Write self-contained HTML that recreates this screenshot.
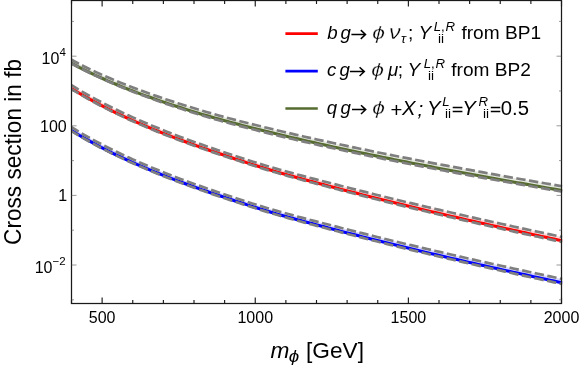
<!DOCTYPE html><html><head><meta charset="utf-8"><title>plot</title><style>html,body{margin:0;padding:0;background:#fff}svg{display:block}svg{will-change:transform;filter:opacity(1)}text{font-family:"Liberation Sans",sans-serif;fill:#000}.i{font-style:italic}</style></head><body>
<svg width="581" height="369" viewBox="0 0 581 369">
<rect x="0" y="0" width="581" height="369" fill="#fff"/>
<clipPath id="cp"><rect x="71.0" y="0.5" width="491.5" height="303.0"/></clipPath>
<g clip-path="url(#cp)" fill="none">
<path d="M71.50 59.79 L75.59 61.99 L79.68 64.13 L83.77 66.20 L87.86 68.22 L91.95 70.19 L96.04 72.11 L100.13 73.98 L104.22 75.81 L108.31 77.59 L112.40 79.34 L116.49 81.04 L120.58 82.71 L124.67 84.35 L128.76 85.95 L132.85 87.52 L136.94 89.07 L141.03 90.58 L145.12 92.07 L149.21 93.53 L153.30 94.98 L157.39 96.39 L161.48 97.79 L165.57 99.17 L169.66 100.53 L173.75 101.87 L177.84 103.19 L181.93 104.49 L186.02 105.78 L190.11 107.06 L194.20 108.31 L198.29 109.55 L202.38 110.77 L206.47 111.97 L210.56 113.15 L214.65 114.31 L218.74 115.45 L222.83 116.58 L226.92 117.69 L231.01 118.78 L235.10 119.85 L239.19 120.91 L243.28 121.96 L247.37 123.00 L251.46 124.03 L255.55 125.04 L259.64 126.05 L263.73 127.06 L267.82 128.05 L271.91 129.04 L276.00 130.02 L280.09 130.99 L284.18 131.96 L288.27 132.92 L292.36 133.87 L296.45 134.82 L300.54 135.76 L304.63 136.70 L308.72 137.62 L312.81 138.54 L316.90 139.45 L320.99 140.36 L325.08 141.26 L329.17 142.16 L333.26 143.04 L337.35 143.93 L341.44 144.80 L345.53 145.67 L349.62 146.54 L353.71 147.40 L357.80 148.25 L361.89 149.10 L365.98 149.94 L370.07 150.78 L374.16 151.62 L378.25 152.45 L382.34 153.27 L386.43 154.09 L390.52 154.91 L394.61 155.72 L398.70 156.53 L402.79 157.33 L406.88 158.13 L410.97 158.93 L415.06 159.72 L419.15 160.51 L423.24 161.29 L427.33 162.07 L431.42 162.85 L435.51 163.62 L439.60 164.39 L443.69 165.16 L447.78 165.93 L451.87 166.69 L455.96 167.45 L460.05 168.20 L464.14 168.95 L468.23 169.70 L472.32 170.45 L476.41 171.19 L480.50 171.93 L484.59 172.67 L488.68 173.41 L492.77 174.14 L496.86 174.87 L500.95 175.60 L505.04 176.33 L509.13 177.05 L513.22 177.77 L517.31 178.49 L521.40 179.21 L525.49 179.93 L529.58 180.64 L533.67 181.35 L537.76 182.06 L541.85 182.77 L545.94 183.47 L550.03 184.18 L554.12 184.88 L558.21 185.58 L562.30 186.28 L562.30 191.68 L558.21 190.99 L554.12 190.29 L550.03 189.58 L545.94 188.88 L541.85 188.17 L537.76 187.47 L533.67 186.76 L529.58 186.04 L525.49 185.33 L521.40 184.61 L517.31 183.89 L513.22 183.17 L509.13 182.45 L505.04 181.73 L500.95 181.00 L496.86 180.27 L492.77 179.54 L488.68 178.80 L484.59 178.06 L480.50 177.32 L476.41 176.58 L472.32 175.84 L468.23 175.09 L464.14 174.34 L460.05 173.58 L455.96 172.82 L451.87 172.06 L447.78 171.30 L443.69 170.53 L439.60 169.76 L435.51 168.99 L431.42 168.21 L427.33 167.43 L423.24 166.65 L419.15 165.86 L415.06 165.07 L410.97 164.27 L406.88 163.47 L402.79 162.67 L398.70 161.86 L394.61 161.05 L390.52 160.23 L386.43 159.41 L382.34 158.59 L378.25 157.76 L374.16 156.92 L370.07 156.08 L365.98 155.24 L361.89 154.39 L357.80 153.53 L353.71 152.67 L349.62 151.80 L345.53 150.93 L341.44 150.05 L337.35 149.17 L333.26 148.28 L329.17 147.38 L325.08 146.48 L320.99 145.57 L316.90 144.66 L312.81 143.73 L308.72 142.80 L304.63 141.87 L300.54 140.92 L296.45 139.97 L292.36 139.01 L288.27 138.05 L284.18 137.07 L280.09 136.09 L276.00 135.10 L271.91 134.11 L267.82 133.11 L263.73 132.10 L259.64 131.08 L255.55 130.05 L251.46 129.02 L247.37 127.98 L243.28 126.92 L239.19 125.85 L235.10 124.77 L231.01 123.68 L226.92 122.57 L222.83 121.44 L218.74 120.29 L214.65 119.12 L210.56 117.93 L206.47 116.73 L202.38 115.50 L198.29 114.26 L194.20 112.99 L190.11 111.71 L186.02 110.41 L181.93 109.09 L177.84 107.75 L173.75 106.39 L169.66 105.02 L165.57 103.63 L161.48 102.21 L157.39 100.78 L153.30 99.32 L149.21 97.84 L145.12 96.33 L141.03 94.80 L136.94 93.24 L132.85 91.65 L128.76 90.03 L124.67 88.38 L120.58 86.69 L116.49 84.97 L112.40 83.21 L108.31 81.40 L104.22 79.56 L100.13 77.72 L96.04 75.85 L91.95 73.94 L87.86 71.97 L83.77 69.95 L79.68 67.87 L75.59 65.74 L71.50 63.54Z" fill="#556B2F" fill-opacity="0.15" stroke="none"/>
<path d="M71.50 85.19 L75.59 87.71 L79.68 90.17 L83.77 92.56 L87.86 94.89 L91.95 97.16 L96.04 99.38 L100.13 101.55 L104.22 103.67 L108.31 105.75 L112.40 107.78 L116.49 109.78 L120.58 111.73 L124.67 113.65 L128.76 115.53 L132.85 117.38 L136.94 119.20 L141.03 120.99 L145.12 122.74 L149.21 124.48 L153.30 126.18 L157.39 127.86 L161.48 129.51 L165.57 131.14 L169.66 132.74 L173.75 134.33 L177.84 135.89 L181.93 137.43 L186.02 138.95 L190.11 140.45 L194.20 141.94 L198.29 143.40 L202.38 144.85 L206.47 146.28 L210.56 147.70 L214.65 149.10 L218.74 150.49 L222.83 151.86 L226.92 153.23 L231.01 154.58 L235.10 155.93 L239.19 157.26 L243.28 158.58 L247.37 159.90 L251.46 161.19 L255.55 162.48 L259.64 163.74 L263.73 164.99 L267.82 166.22 L271.91 167.43 L276.00 168.62 L280.09 169.78 L284.18 170.93 L288.27 172.06 L292.36 173.17 L296.45 174.27 L300.54 175.36 L304.63 176.43 L308.72 177.50 L312.81 178.57 L316.90 179.63 L320.99 180.69 L325.08 181.75 L329.17 182.81 L333.26 183.86 L337.35 184.91 L341.44 185.96 L345.53 187.01 L349.62 188.05 L353.71 189.09 L357.80 190.12 L361.89 191.15 L365.98 192.18 L370.07 193.20 L374.16 194.21 L378.25 195.23 L382.34 196.23 L386.43 197.24 L390.52 198.24 L394.61 199.23 L398.70 200.22 L402.79 201.21 L406.88 202.19 L410.97 203.17 L415.06 204.14 L419.15 205.11 L423.24 206.08 L427.33 207.04 L431.42 208.00 L435.51 208.95 L439.60 209.91 L443.69 210.85 L447.78 211.80 L451.87 212.74 L455.96 213.68 L460.05 214.61 L464.14 215.54 L468.23 216.47 L472.32 217.39 L476.41 218.31 L480.50 219.23 L484.59 220.15 L488.68 221.06 L492.77 221.97 L496.86 222.87 L500.95 223.78 L505.04 224.68 L509.13 225.58 L513.22 226.47 L517.31 227.36 L521.40 228.25 L525.49 229.14 L529.58 230.03 L533.67 230.91 L537.76 231.79 L541.85 232.67 L545.94 233.54 L550.03 234.42 L554.12 235.29 L558.21 236.16 L562.30 237.02 L562.30 242.08 L558.21 241.20 L554.12 240.32 L550.03 239.44 L545.94 238.56 L541.85 237.67 L537.76 236.78 L533.67 235.89 L529.58 235.00 L525.49 234.11 L521.40 233.21 L517.31 232.31 L513.22 231.41 L509.13 230.50 L505.04 229.59 L500.95 228.68 L496.86 227.77 L492.77 226.86 L488.68 225.94 L484.59 225.01 L480.50 224.09 L476.41 223.16 L472.32 222.23 L468.23 221.30 L464.14 220.36 L460.05 219.42 L455.96 218.48 L451.87 217.53 L447.78 216.58 L443.69 215.62 L439.60 214.66 L435.51 213.70 L431.42 212.74 L427.33 211.77 L423.24 210.79 L419.15 209.81 L415.06 208.83 L410.97 207.85 L406.88 206.86 L402.79 205.86 L398.70 204.86 L394.61 203.86 L390.52 202.85 L386.43 201.83 L382.34 200.81 L378.25 199.79 L374.16 198.76 L370.07 197.73 L365.98 196.69 L361.89 195.64 L357.80 194.59 L353.71 193.54 L349.62 192.48 L345.53 191.42 L341.44 190.35 L337.35 189.27 L333.26 188.20 L329.17 187.12 L325.08 186.04 L320.99 184.95 L316.90 183.87 L312.81 182.78 L308.72 181.68 L304.63 180.59 L300.54 179.48 L296.45 178.37 L292.36 177.24 L288.27 176.10 L284.18 174.95 L280.09 173.78 L276.00 172.58 L271.91 171.37 L267.82 170.14 L263.73 168.89 L259.64 167.62 L255.55 166.33 L251.46 165.03 L247.37 163.72 L243.28 162.39 L239.19 161.06 L235.10 159.71 L231.01 158.36 L226.92 157.00 L222.83 155.63 L218.74 154.24 L214.65 152.85 L210.56 151.45 L206.47 150.03 L202.38 148.60 L198.29 147.16 L194.20 145.70 L190.11 144.22 L186.02 142.72 L181.93 141.21 L177.84 139.68 L173.75 138.12 L169.66 136.55 L165.57 134.95 L161.48 133.33 L157.39 131.68 L153.30 130.01 L149.21 128.32 L145.12 126.59 L141.03 124.84 L136.94 123.06 L132.85 121.25 L128.76 119.41 L124.67 117.53 L120.58 115.61 L116.49 113.66 L112.40 111.67 L108.31 109.64 L104.22 107.56 L100.13 105.44 L96.04 103.27 L91.95 101.05 L87.86 98.77 L83.77 96.44 L79.68 94.04 L75.59 91.59 L71.50 89.06Z" fill="#FF0000" fill-opacity="0.15" stroke="none"/>
<path d="M71.50 127.19 L75.59 129.71 L79.68 132.17 L83.77 134.56 L87.86 136.89 L91.95 139.16 L96.04 141.38 L100.13 143.55 L104.22 145.67 L108.31 147.75 L112.40 149.78 L116.49 151.78 L120.58 153.73 L124.67 155.65 L128.76 157.53 L132.85 159.38 L136.94 161.20 L141.03 162.99 L145.12 164.74 L149.21 166.48 L153.30 168.18 L157.39 169.86 L161.48 171.51 L165.57 173.14 L169.66 174.74 L173.75 176.33 L177.84 177.89 L181.93 179.43 L186.02 180.95 L190.11 182.45 L194.20 183.94 L198.29 185.40 L202.38 186.85 L206.47 188.28 L210.56 189.70 L214.65 191.10 L218.74 192.49 L222.83 193.86 L226.92 195.23 L231.01 196.58 L235.10 197.93 L239.19 199.26 L243.28 200.58 L247.37 201.90 L251.46 203.19 L255.55 204.48 L259.64 205.74 L263.73 206.99 L267.82 208.22 L271.91 209.43 L276.00 210.62 L280.09 211.78 L284.18 212.93 L288.27 214.06 L292.36 215.17 L296.45 216.27 L300.54 217.36 L304.63 218.43 L308.72 219.50 L312.81 220.57 L316.90 221.63 L320.99 222.69 L325.08 223.75 L329.17 224.81 L333.26 225.86 L337.35 226.91 L341.44 227.96 L345.53 229.01 L349.62 230.05 L353.71 231.09 L357.80 232.12 L361.89 233.15 L365.98 234.18 L370.07 235.20 L374.16 236.21 L378.25 237.23 L382.34 238.23 L386.43 239.24 L390.52 240.24 L394.61 241.23 L398.70 242.22 L402.79 243.21 L406.88 244.19 L410.97 245.17 L415.06 246.14 L419.15 247.11 L423.24 248.08 L427.33 249.04 L431.42 250.00 L435.51 250.95 L439.60 251.91 L443.69 252.85 L447.78 253.80 L451.87 254.74 L455.96 255.68 L460.05 256.61 L464.14 257.54 L468.23 258.47 L472.32 259.39 L476.41 260.31 L480.50 261.23 L484.59 262.15 L488.68 263.06 L492.77 263.97 L496.86 264.87 L500.95 265.78 L505.04 266.68 L509.13 267.58 L513.22 268.47 L517.31 269.36 L521.40 270.25 L525.49 271.14 L529.58 272.03 L533.67 272.91 L537.76 273.79 L541.85 274.67 L545.94 275.54 L550.03 276.42 L554.12 277.29 L558.21 278.16 L562.30 279.02 L562.30 284.08 L558.21 283.20 L554.12 282.32 L550.03 281.44 L545.94 280.56 L541.85 279.67 L537.76 278.78 L533.67 277.89 L529.58 277.00 L525.49 276.11 L521.40 275.21 L517.31 274.31 L513.22 273.41 L509.13 272.50 L505.04 271.59 L500.95 270.68 L496.86 269.77 L492.77 268.86 L488.68 267.94 L484.59 267.01 L480.50 266.09 L476.41 265.16 L472.32 264.23 L468.23 263.30 L464.14 262.36 L460.05 261.42 L455.96 260.48 L451.87 259.53 L447.78 258.58 L443.69 257.62 L439.60 256.66 L435.51 255.70 L431.42 254.74 L427.33 253.77 L423.24 252.79 L419.15 251.81 L415.06 250.83 L410.97 249.85 L406.88 248.86 L402.79 247.86 L398.70 246.86 L394.61 245.86 L390.52 244.85 L386.43 243.83 L382.34 242.81 L378.25 241.79 L374.16 240.76 L370.07 239.73 L365.98 238.69 L361.89 237.64 L357.80 236.59 L353.71 235.54 L349.62 234.48 L345.53 233.42 L341.44 232.35 L337.35 231.27 L333.26 230.20 L329.17 229.12 L325.08 228.04 L320.99 226.95 L316.90 225.87 L312.81 224.78 L308.72 223.68 L304.63 222.59 L300.54 221.48 L296.45 220.37 L292.36 219.24 L288.27 218.10 L284.18 216.95 L280.09 215.78 L276.00 214.58 L271.91 213.37 L267.82 212.14 L263.73 210.89 L259.64 209.62 L255.55 208.33 L251.46 207.03 L247.37 205.72 L243.28 204.39 L239.19 203.06 L235.10 201.71 L231.01 200.36 L226.92 199.00 L222.83 197.63 L218.74 196.24 L214.65 194.85 L210.56 193.45 L206.47 192.03 L202.38 190.60 L198.29 189.16 L194.20 187.70 L190.11 186.22 L186.02 184.72 L181.93 183.21 L177.84 181.68 L173.75 180.12 L169.66 178.55 L165.57 176.95 L161.48 175.33 L157.39 173.68 L153.30 172.01 L149.21 170.32 L145.12 168.59 L141.03 166.84 L136.94 165.06 L132.85 163.25 L128.76 161.41 L124.67 159.53 L120.58 157.61 L116.49 155.66 L112.40 153.67 L108.31 151.64 L104.22 149.56 L100.13 147.44 L96.04 145.27 L91.95 143.05 L87.86 140.77 L83.77 138.44 L79.68 136.04 L75.59 133.59 L71.50 131.06Z" fill="#0000FF" fill-opacity="0.15" stroke="none"/>
<path d="M71.50 63.19 L75.59 65.39 L79.68 67.54 L83.77 69.62 L87.86 71.65 L91.95 73.63 L96.04 75.55 L100.13 77.43 L104.22 79.27 L108.31 81.06 L112.40 82.81 L116.49 84.52 L120.58 86.20 L124.67 87.84 L128.76 89.45 L132.85 91.03 L136.94 92.58 L141.03 94.10 L145.12 95.60 L149.21 97.07 L153.30 98.52 L157.39 99.94 L161.48 101.35 L165.57 102.73 L169.66 104.10 L173.75 105.44 L177.84 106.77 L181.93 108.09 L186.02 109.38 L190.11 110.66 L194.20 111.92 L198.29 113.17 L202.38 114.39 L206.47 115.60 L210.56 116.79 L214.65 117.96 L218.74 119.11 L222.83 120.24 L226.92 121.36 L231.01 122.46 L235.10 123.54 L239.19 124.61 L243.28 125.66 L247.37 126.71 L251.46 127.74 L255.55 128.76 L259.64 129.78 L263.73 130.79 L267.82 131.79 L271.91 132.79 L276.00 133.77 L280.09 134.75 L284.18 135.73 L288.27 136.70 L292.36 137.66 L296.45 138.61 L300.54 139.56 L304.63 140.50 L308.72 141.43 L312.81 142.36 L316.90 143.28 L320.99 144.19 L325.08 145.10 L329.17 146.00 L333.26 146.90 L337.35 147.79 L341.44 148.67 L345.53 149.55 L349.62 150.42 L353.71 151.29 L357.80 152.15 L361.89 153.00 L365.98 153.85 L370.07 154.70 L374.16 155.54 L378.25 156.38 L382.34 157.21 L386.43 158.04 L390.52 158.86 L394.61 159.68 L398.70 160.50 L402.79 161.31 L406.88 162.11 L410.97 162.92 L415.06 163.71 L419.15 164.51 L423.24 165.30 L427.33 166.09 L431.42 166.87 L435.51 167.66 L439.60 168.43 L443.69 169.21 L447.78 169.98 L451.87 170.75 L455.96 171.51 L460.05 172.27 L464.14 173.03 L468.23 173.79 L472.32 174.54 L476.41 175.30 L480.50 176.04 L484.59 176.79 L488.68 177.53 L492.77 178.27 L496.86 179.01 L500.95 179.75 L505.04 180.48 L509.13 181.21 L513.22 181.94 L517.31 182.67 L521.40 183.39 L525.49 184.11 L529.58 184.84 L533.67 185.55 L537.76 186.27 L541.85 186.98 L545.94 187.70 L550.03 188.41 L554.12 189.12 L558.21 189.82 L562.30 190.53" stroke="#556B2F" stroke-width="3.1"/>
<path d="M71.50 88.49 L75.59 91.01 L79.68 93.46 L83.77 95.85 L87.86 98.18 L91.95 100.45 L96.04 102.66 L100.13 104.83 L104.22 106.94 L108.31 109.01 L112.40 111.04 L116.49 113.03 L120.58 114.97 L124.67 116.88 L128.76 118.75 L132.85 120.59 L136.94 122.40 L141.03 124.17 L145.12 125.92 L149.21 127.64 L153.30 129.33 L157.39 130.99 L161.48 132.63 L165.57 134.24 L169.66 135.83 L173.75 137.40 L177.84 138.95 L181.93 140.48 L186.02 141.99 L190.11 143.48 L194.20 144.95 L198.29 146.40 L202.38 147.84 L206.47 149.27 L210.56 150.68 L214.65 152.08 L218.74 153.46 L222.83 154.84 L226.92 156.20 L231.01 157.56 L235.10 158.91 L239.19 160.24 L243.28 161.57 L247.37 162.89 L251.46 164.20 L255.55 165.50 L259.64 166.78 L263.73 168.04 L267.82 169.29 L271.91 170.51 L276.00 171.72 L280.09 172.90 L284.18 174.07 L288.27 175.22 L292.36 176.35 L296.45 177.47 L300.54 178.58 L304.63 179.68 L308.72 180.77 L312.81 181.86 L316.90 182.94 L320.99 184.02 L325.08 185.10 L329.17 186.18 L333.26 187.25 L337.35 188.32 L341.44 189.39 L345.53 190.45 L349.62 191.51 L353.71 192.56 L357.80 193.61 L361.89 194.65 L365.98 195.69 L370.07 196.72 L374.16 197.75 L378.25 198.78 L382.34 199.79 L386.43 200.81 L390.52 201.81 L394.61 202.82 L398.70 203.82 L402.79 204.81 L406.88 205.80 L410.97 206.78 L415.06 207.76 L419.15 208.74 L423.24 209.71 L427.33 210.68 L431.42 211.64 L435.51 212.60 L439.60 213.56 L443.69 214.51 L447.78 215.46 L451.87 216.41 L455.96 217.35 L460.05 218.29 L464.14 219.22 L468.23 220.15 L472.32 221.08 L476.41 222.01 L480.50 222.93 L484.59 223.85 L488.68 224.76 L492.77 225.67 L496.86 226.58 L500.95 227.49 L505.04 228.40 L509.13 229.30 L513.22 230.20 L517.31 231.09 L521.40 231.99 L525.49 232.88 L529.58 233.77 L533.67 234.65 L537.76 235.54 L541.85 236.42 L545.94 237.30 L550.03 238.18 L554.12 239.05 L558.21 239.92 L562.30 240.79" stroke="#FF0000" stroke-width="3.1"/>
<path d="M71.50 130.49 L75.59 133.01 L79.68 135.46 L83.77 137.85 L87.86 140.18 L91.95 142.45 L96.04 144.66 L100.13 146.83 L104.22 148.94 L108.31 151.01 L112.40 153.04 L116.49 155.03 L120.58 156.97 L124.67 158.88 L128.76 160.75 L132.85 162.59 L136.94 164.40 L141.03 166.17 L145.12 167.92 L149.21 169.64 L153.30 171.33 L157.39 172.99 L161.48 174.63 L165.57 176.24 L169.66 177.83 L173.75 179.40 L177.84 180.95 L181.93 182.48 L186.02 183.99 L190.11 185.48 L194.20 186.95 L198.29 188.40 L202.38 189.84 L206.47 191.27 L210.56 192.68 L214.65 194.08 L218.74 195.46 L222.83 196.84 L226.92 198.20 L231.01 199.56 L235.10 200.91 L239.19 202.24 L243.28 203.57 L247.37 204.89 L251.46 206.20 L255.55 207.50 L259.64 208.78 L263.73 210.04 L267.82 211.29 L271.91 212.51 L276.00 213.72 L280.09 214.90 L284.18 216.07 L288.27 217.22 L292.36 218.35 L296.45 219.47 L300.54 220.58 L304.63 221.68 L308.72 222.77 L312.81 223.86 L316.90 224.94 L320.99 226.02 L325.08 227.10 L329.17 228.18 L333.26 229.25 L337.35 230.32 L341.44 231.39 L345.53 232.45 L349.62 233.51 L353.71 234.56 L357.80 235.61 L361.89 236.65 L365.98 237.69 L370.07 238.72 L374.16 239.75 L378.25 240.78 L382.34 241.79 L386.43 242.81 L390.52 243.81 L394.61 244.82 L398.70 245.82 L402.79 246.81 L406.88 247.80 L410.97 248.78 L415.06 249.76 L419.15 250.74 L423.24 251.71 L427.33 252.68 L431.42 253.64 L435.51 254.60 L439.60 255.56 L443.69 256.51 L447.78 257.46 L451.87 258.41 L455.96 259.35 L460.05 260.29 L464.14 261.22 L468.23 262.15 L472.32 263.08 L476.41 264.01 L480.50 264.93 L484.59 265.85 L488.68 266.76 L492.77 267.67 L496.86 268.58 L500.95 269.49 L505.04 270.40 L509.13 271.30 L513.22 272.20 L517.31 273.09 L521.40 273.99 L525.49 274.88 L529.58 275.77 L533.67 276.65 L537.76 277.54 L541.85 278.42 L545.94 279.30 L550.03 280.18 L554.12 281.05 L558.21 281.92 L562.30 282.79" stroke="#0000FF" stroke-width="3.1"/>
<path d="M71.50 59.79 L75.59 61.99 L79.68 64.13 L83.77 66.20 L87.86 68.22 L91.95 70.19 L96.04 72.11 L100.13 73.98 L104.22 75.81 L108.31 77.59 L112.40 79.34 L116.49 81.04 L120.58 82.71 L124.67 84.35 L128.76 85.95 L132.85 87.52 L136.94 89.07 L141.03 90.58 L145.12 92.07 L149.21 93.53 L153.30 94.98 L157.39 96.39 L161.48 97.79 L165.57 99.17 L169.66 100.53 L173.75 101.87 L177.84 103.19 L181.93 104.49 L186.02 105.78 L190.11 107.06 L194.20 108.31 L198.29 109.55 L202.38 110.77 L206.47 111.97 L210.56 113.15 L214.65 114.31 L218.74 115.45 L222.83 116.58 L226.92 117.69 L231.01 118.78 L235.10 119.85 L239.19 120.91 L243.28 121.96 L247.37 123.00 L251.46 124.03 L255.55 125.04 L259.64 126.05 L263.73 127.06 L267.82 128.05 L271.91 129.04 L276.00 130.02 L280.09 130.99 L284.18 131.96 L288.27 132.92 L292.36 133.87 L296.45 134.82 L300.54 135.76 L304.63 136.70 L308.72 137.62 L312.81 138.54 L316.90 139.45 L320.99 140.36 L325.08 141.26 L329.17 142.16 L333.26 143.04 L337.35 143.93 L341.44 144.80 L345.53 145.67 L349.62 146.54 L353.71 147.40 L357.80 148.25 L361.89 149.10 L365.98 149.94 L370.07 150.78 L374.16 151.62 L378.25 152.45 L382.34 153.27 L386.43 154.09 L390.52 154.91 L394.61 155.72 L398.70 156.53 L402.79 157.33 L406.88 158.13 L410.97 158.93 L415.06 159.72 L419.15 160.51 L423.24 161.29 L427.33 162.07 L431.42 162.85 L435.51 163.62 L439.60 164.39 L443.69 165.16 L447.78 165.93 L451.87 166.69 L455.96 167.45 L460.05 168.20 L464.14 168.95 L468.23 169.70 L472.32 170.45 L476.41 171.19 L480.50 171.93 L484.59 172.67 L488.68 173.41 L492.77 174.14 L496.86 174.87 L500.95 175.60 L505.04 176.33 L509.13 177.05 L513.22 177.77 L517.31 178.49 L521.40 179.21 L525.49 179.93 L529.58 180.64 L533.67 181.35 L537.76 182.06 L541.85 182.77 L545.94 183.47 L550.03 184.18 L554.12 184.88 L558.21 185.58 L562.30 186.28" stroke="#7f7f7f" stroke-width="2.7" stroke-dasharray="9.4 3.46" stroke-dashoffset="1.0"/>
<path d="M71.50 63.54 L75.59 65.74 L79.68 67.87 L83.77 69.95 L87.86 71.97 L91.95 73.94 L96.04 75.85 L100.13 77.72 L104.22 79.56 L108.31 81.40 L112.40 83.21 L116.49 84.97 L120.58 86.69 L124.67 88.38 L128.76 90.03 L132.85 91.65 L136.94 93.24 L141.03 94.80 L145.12 96.33 L149.21 97.84 L153.30 99.32 L157.39 100.78 L161.48 102.21 L165.57 103.63 L169.66 105.02 L173.75 106.39 L177.84 107.75 L181.93 109.09 L186.02 110.41 L190.11 111.71 L194.20 112.99 L198.29 114.26 L202.38 115.50 L206.47 116.73 L210.56 117.93 L214.65 119.12 L218.74 120.29 L222.83 121.44 L226.92 122.57 L231.01 123.68 L235.10 124.77 L239.19 125.85 L243.28 126.92 L247.37 127.98 L251.46 129.02 L255.55 130.05 L259.64 131.08 L263.73 132.10 L267.82 133.11 L271.91 134.11 L276.00 135.10 L280.09 136.09 L284.18 137.07 L288.27 138.05 L292.36 139.01 L296.45 139.97 L300.54 140.92 L304.63 141.87 L308.72 142.80 L312.81 143.73 L316.90 144.66 L320.99 145.57 L325.08 146.48 L329.17 147.38 L333.26 148.28 L337.35 149.17 L341.44 150.05 L345.53 150.93 L349.62 151.80 L353.71 152.67 L357.80 153.53 L361.89 154.39 L365.98 155.24 L370.07 156.08 L374.16 156.92 L378.25 157.76 L382.34 158.59 L386.43 159.41 L390.52 160.23 L394.61 161.05 L398.70 161.86 L402.79 162.67 L406.88 163.47 L410.97 164.27 L415.06 165.07 L419.15 165.86 L423.24 166.65 L427.33 167.43 L431.42 168.21 L435.51 168.99 L439.60 169.76 L443.69 170.53 L447.78 171.30 L451.87 172.06 L455.96 172.82 L460.05 173.58 L464.14 174.34 L468.23 175.09 L472.32 175.84 L476.41 176.58 L480.50 177.32 L484.59 178.06 L488.68 178.80 L492.77 179.54 L496.86 180.27 L500.95 181.00 L505.04 181.73 L509.13 182.45 L513.22 183.17 L517.31 183.89 L521.40 184.61 L525.49 185.33 L529.58 186.04 L533.67 186.76 L537.76 187.47 L541.85 188.17 L545.94 188.88 L550.03 189.58 L554.12 190.29 L558.21 190.99 L562.30 191.68" stroke="#7f7f7f" stroke-width="2.7" stroke-dasharray="9.4 3.46" stroke-dashoffset="1.0"/>
<path d="M71.50 85.19 L75.59 87.71 L79.68 90.17 L83.77 92.56 L87.86 94.89 L91.95 97.16 L96.04 99.38 L100.13 101.55 L104.22 103.67 L108.31 105.75 L112.40 107.78 L116.49 109.78 L120.58 111.73 L124.67 113.65 L128.76 115.53 L132.85 117.38 L136.94 119.20 L141.03 120.99 L145.12 122.74 L149.21 124.48 L153.30 126.18 L157.39 127.86 L161.48 129.51 L165.57 131.14 L169.66 132.74 L173.75 134.33 L177.84 135.89 L181.93 137.43 L186.02 138.95 L190.11 140.45 L194.20 141.94 L198.29 143.40 L202.38 144.85 L206.47 146.28 L210.56 147.70 L214.65 149.10 L218.74 150.49 L222.83 151.86 L226.92 153.23 L231.01 154.58 L235.10 155.93 L239.19 157.26 L243.28 158.58 L247.37 159.90 L251.46 161.19 L255.55 162.48 L259.64 163.74 L263.73 164.99 L267.82 166.22 L271.91 167.43 L276.00 168.62 L280.09 169.78 L284.18 170.93 L288.27 172.06 L292.36 173.17 L296.45 174.27 L300.54 175.36 L304.63 176.43 L308.72 177.50 L312.81 178.57 L316.90 179.63 L320.99 180.69 L325.08 181.75 L329.17 182.81 L333.26 183.86 L337.35 184.91 L341.44 185.96 L345.53 187.01 L349.62 188.05 L353.71 189.09 L357.80 190.12 L361.89 191.15 L365.98 192.18 L370.07 193.20 L374.16 194.21 L378.25 195.23 L382.34 196.23 L386.43 197.24 L390.52 198.24 L394.61 199.23 L398.70 200.22 L402.79 201.21 L406.88 202.19 L410.97 203.17 L415.06 204.14 L419.15 205.11 L423.24 206.08 L427.33 207.04 L431.42 208.00 L435.51 208.95 L439.60 209.91 L443.69 210.85 L447.78 211.80 L451.87 212.74 L455.96 213.68 L460.05 214.61 L464.14 215.54 L468.23 216.47 L472.32 217.39 L476.41 218.31 L480.50 219.23 L484.59 220.15 L488.68 221.06 L492.77 221.97 L496.86 222.87 L500.95 223.78 L505.04 224.68 L509.13 225.58 L513.22 226.47 L517.31 227.36 L521.40 228.25 L525.49 229.14 L529.58 230.03 L533.67 230.91 L537.76 231.79 L541.85 232.67 L545.94 233.54 L550.03 234.42 L554.12 235.29 L558.21 236.16 L562.30 237.02" stroke="#7f7f7f" stroke-width="2.7" stroke-dasharray="9.4 3.46" stroke-dashoffset="1.0"/>
<path d="M71.50 89.06 L75.59 91.59 L79.68 94.04 L83.77 96.44 L87.86 98.77 L91.95 101.05 L96.04 103.27 L100.13 105.44 L104.22 107.56 L108.31 109.64 L112.40 111.67 L116.49 113.66 L120.58 115.61 L124.67 117.53 L128.76 119.41 L132.85 121.25 L136.94 123.06 L141.03 124.84 L145.12 126.59 L149.21 128.32 L153.30 130.01 L157.39 131.68 L161.48 133.33 L165.57 134.95 L169.66 136.55 L173.75 138.12 L177.84 139.68 L181.93 141.21 L186.02 142.72 L190.11 144.22 L194.20 145.70 L198.29 147.16 L202.38 148.60 L206.47 150.03 L210.56 151.45 L214.65 152.85 L218.74 154.24 L222.83 155.63 L226.92 157.00 L231.01 158.36 L235.10 159.71 L239.19 161.06 L243.28 162.39 L247.37 163.72 L251.46 165.03 L255.55 166.33 L259.64 167.62 L263.73 168.89 L267.82 170.14 L271.91 171.37 L276.00 172.58 L280.09 173.78 L284.18 174.95 L288.27 176.10 L292.36 177.24 L296.45 178.37 L300.54 179.48 L304.63 180.59 L308.72 181.68 L312.81 182.78 L316.90 183.87 L320.99 184.95 L325.08 186.04 L329.17 187.12 L333.26 188.20 L337.35 189.27 L341.44 190.35 L345.53 191.42 L349.62 192.48 L353.71 193.54 L357.80 194.59 L361.89 195.64 L365.98 196.69 L370.07 197.73 L374.16 198.76 L378.25 199.79 L382.34 200.81 L386.43 201.83 L390.52 202.85 L394.61 203.86 L398.70 204.86 L402.79 205.86 L406.88 206.86 L410.97 207.85 L415.06 208.83 L419.15 209.81 L423.24 210.79 L427.33 211.77 L431.42 212.74 L435.51 213.70 L439.60 214.66 L443.69 215.62 L447.78 216.58 L451.87 217.53 L455.96 218.48 L460.05 219.42 L464.14 220.36 L468.23 221.30 L472.32 222.23 L476.41 223.16 L480.50 224.09 L484.59 225.01 L488.68 225.94 L492.77 226.86 L496.86 227.77 L500.95 228.68 L505.04 229.59 L509.13 230.50 L513.22 231.41 L517.31 232.31 L521.40 233.21 L525.49 234.11 L529.58 235.00 L533.67 235.89 L537.76 236.78 L541.85 237.67 L545.94 238.56 L550.03 239.44 L554.12 240.32 L558.21 241.20 L562.30 242.08" stroke="#7f7f7f" stroke-width="2.7" stroke-dasharray="9.4 3.46" stroke-dashoffset="1.0"/>
<path d="M71.50 127.19 L75.59 129.71 L79.68 132.17 L83.77 134.56 L87.86 136.89 L91.95 139.16 L96.04 141.38 L100.13 143.55 L104.22 145.67 L108.31 147.75 L112.40 149.78 L116.49 151.78 L120.58 153.73 L124.67 155.65 L128.76 157.53 L132.85 159.38 L136.94 161.20 L141.03 162.99 L145.12 164.74 L149.21 166.48 L153.30 168.18 L157.39 169.86 L161.48 171.51 L165.57 173.14 L169.66 174.74 L173.75 176.33 L177.84 177.89 L181.93 179.43 L186.02 180.95 L190.11 182.45 L194.20 183.94 L198.29 185.40 L202.38 186.85 L206.47 188.28 L210.56 189.70 L214.65 191.10 L218.74 192.49 L222.83 193.86 L226.92 195.23 L231.01 196.58 L235.10 197.93 L239.19 199.26 L243.28 200.58 L247.37 201.90 L251.46 203.19 L255.55 204.48 L259.64 205.74 L263.73 206.99 L267.82 208.22 L271.91 209.43 L276.00 210.62 L280.09 211.78 L284.18 212.93 L288.27 214.06 L292.36 215.17 L296.45 216.27 L300.54 217.36 L304.63 218.43 L308.72 219.50 L312.81 220.57 L316.90 221.63 L320.99 222.69 L325.08 223.75 L329.17 224.81 L333.26 225.86 L337.35 226.91 L341.44 227.96 L345.53 229.01 L349.62 230.05 L353.71 231.09 L357.80 232.12 L361.89 233.15 L365.98 234.18 L370.07 235.20 L374.16 236.21 L378.25 237.23 L382.34 238.23 L386.43 239.24 L390.52 240.24 L394.61 241.23 L398.70 242.22 L402.79 243.21 L406.88 244.19 L410.97 245.17 L415.06 246.14 L419.15 247.11 L423.24 248.08 L427.33 249.04 L431.42 250.00 L435.51 250.95 L439.60 251.91 L443.69 252.85 L447.78 253.80 L451.87 254.74 L455.96 255.68 L460.05 256.61 L464.14 257.54 L468.23 258.47 L472.32 259.39 L476.41 260.31 L480.50 261.23 L484.59 262.15 L488.68 263.06 L492.77 263.97 L496.86 264.87 L500.95 265.78 L505.04 266.68 L509.13 267.58 L513.22 268.47 L517.31 269.36 L521.40 270.25 L525.49 271.14 L529.58 272.03 L533.67 272.91 L537.76 273.79 L541.85 274.67 L545.94 275.54 L550.03 276.42 L554.12 277.29 L558.21 278.16 L562.30 279.02" stroke="#7f7f7f" stroke-width="2.7" stroke-dasharray="9.4 3.46" stroke-dashoffset="1.0"/>
<path d="M71.50 131.06 L75.59 133.59 L79.68 136.04 L83.77 138.44 L87.86 140.77 L91.95 143.05 L96.04 145.27 L100.13 147.44 L104.22 149.56 L108.31 151.64 L112.40 153.67 L116.49 155.66 L120.58 157.61 L124.67 159.53 L128.76 161.41 L132.85 163.25 L136.94 165.06 L141.03 166.84 L145.12 168.59 L149.21 170.32 L153.30 172.01 L157.39 173.68 L161.48 175.33 L165.57 176.95 L169.66 178.55 L173.75 180.12 L177.84 181.68 L181.93 183.21 L186.02 184.72 L190.11 186.22 L194.20 187.70 L198.29 189.16 L202.38 190.60 L206.47 192.03 L210.56 193.45 L214.65 194.85 L218.74 196.24 L222.83 197.63 L226.92 199.00 L231.01 200.36 L235.10 201.71 L239.19 203.06 L243.28 204.39 L247.37 205.72 L251.46 207.03 L255.55 208.33 L259.64 209.62 L263.73 210.89 L267.82 212.14 L271.91 213.37 L276.00 214.58 L280.09 215.78 L284.18 216.95 L288.27 218.10 L292.36 219.24 L296.45 220.37 L300.54 221.48 L304.63 222.59 L308.72 223.68 L312.81 224.78 L316.90 225.87 L320.99 226.95 L325.08 228.04 L329.17 229.12 L333.26 230.20 L337.35 231.27 L341.44 232.35 L345.53 233.42 L349.62 234.48 L353.71 235.54 L357.80 236.59 L361.89 237.64 L365.98 238.69 L370.07 239.73 L374.16 240.76 L378.25 241.79 L382.34 242.81 L386.43 243.83 L390.52 244.85 L394.61 245.86 L398.70 246.86 L402.79 247.86 L406.88 248.86 L410.97 249.85 L415.06 250.83 L419.15 251.81 L423.24 252.79 L427.33 253.77 L431.42 254.74 L435.51 255.70 L439.60 256.66 L443.69 257.62 L447.78 258.58 L451.87 259.53 L455.96 260.48 L460.05 261.42 L464.14 262.36 L468.23 263.30 L472.32 264.23 L476.41 265.16 L480.50 266.09 L484.59 267.01 L488.68 267.94 L492.77 268.86 L496.86 269.77 L500.95 270.68 L505.04 271.59 L509.13 272.50 L513.22 273.41 L517.31 274.31 L521.40 275.21 L525.49 276.11 L529.58 277.00 L533.67 277.89 L537.76 278.78 L541.85 279.67 L545.94 280.56 L550.03 281.44 L554.12 282.32 L558.21 283.20 L562.30 284.08" stroke="#7f7f7f" stroke-width="2.7" stroke-dasharray="9.4 3.46" stroke-dashoffset="1.0"/>
</g>
<rect x="71.5" y="0.5" width="490.0" height="303.0" fill="none" stroke="#1a1a1a" stroke-width="1.25"/>
<path d="M71.50 303.50v-3.60M71.50 0.50v3.60M102.12 303.50v-6.00M102.12 0.50v6.00M132.75 303.50v-3.60M132.75 0.50v3.60M163.38 303.50v-3.60M163.38 0.50v3.60M194.00 303.50v-3.60M194.00 0.50v3.60M224.62 303.50v-3.60M224.62 0.50v3.60M255.25 303.50v-6.00M255.25 0.50v6.00M285.88 303.50v-3.60M285.88 0.50v3.60M316.50 303.50v-3.60M316.50 0.50v3.60M347.12 303.50v-3.60M347.12 0.50v3.60M377.75 303.50v-3.60M377.75 0.50v3.60M408.38 303.50v-6.00M408.38 0.50v6.00M439.00 303.50v-3.60M439.00 0.50v3.60M469.63 303.50v-3.60M469.63 0.50v3.60M500.25 303.50v-3.60M500.25 0.50v3.60M530.88 303.50v-3.60M530.88 0.50v3.60M561.50 303.50v-6.00M561.50 0.50v6.00" stroke="#1a1a1a" stroke-width="1.15" fill="none"/>
<path d="M71.50 299.80h2.50M561.50 299.80h-2.50M71.50 265.00h5.00M561.50 265.00h-5.00M71.50 230.20h2.50M561.50 230.20h-2.50M71.50 195.40h5.00M561.50 195.40h-5.00M71.50 160.60h2.50M561.50 160.60h-2.50M71.50 125.80h5.00M561.50 125.80h-5.00M71.50 91.00h2.50M561.50 91.00h-2.50M71.50 56.20h5.00M561.50 56.20h-5.00M71.50 21.40h2.50M561.50 21.40h-2.50" stroke="#555" stroke-width="0.6" fill="none"/>
<text x="102.12" y="322.6" font-size="16" text-anchor="middle">500</text>
<text x="255.25" y="322.6" font-size="16" text-anchor="middle">1000</text>
<text x="408.38" y="322.6" font-size="16" text-anchor="middle">1500</text>
<text x="561.50" y="322.6" font-size="16" text-anchor="middle">2000</text>
<text x="65.8" y="64.2" font-size="16" text-anchor="end">10<tspan font-size="11.5" dy="-8.4">4</tspan></text>
<text x="66.7" y="131.5" font-size="16" text-anchor="end">100</text>
<text x="67.1" y="201.1" font-size="16" text-anchor="end">1</text>
<text x="65.6" y="272.7" font-size="16" text-anchor="end">10<tspan font-size="11.5" dy="-8.1">−2</tspan></text>
<text transform="translate(20.8,244.9) rotate(-90) scale(0.95,1)" font-size="23.8">Cross section in fb</text>
<text x="270.5" y="357.6" font-size="22.67" class="i">m</text>
<text transform="translate(288.7,362.0) scale(1.2,1)" font-size="15.6" class="i">ϕ</text>
<text x="306" y="357.8" font-size="22.67">[GeV]</text>
<path d="M285.4 33.65H317.8" stroke="#FF0000" stroke-width="2.7" fill="none"/>
<path d="M285.4 71.10H317.8" stroke="#0000FF" stroke-width="2.7" fill="none"/>
<path d="M285.4 108.50H317.8" stroke="#556B2F" stroke-width="2.7" fill="none"/>
<text x="327.14" y="39.00" font-size="18.67" class="i">b</text>
<text x="340.56" y="39.00" font-size="18.67" class="i">g</text>
<path d="M351.40 34.50H365.20M360.80 30.10L365.50 34.50L360.80 38.90" stroke="#000" stroke-width="1.5" fill="none" stroke-linejoin="miter"/>
<text transform="translate(372.37,39.00) scale(1.220,1)" font-size="18.67" class="i" stroke="#fff" stroke-width="0.3">ϕ</text>
<text transform="translate(388.88,39.00) scale(1.100,1)" font-size="21.00" class="i" stroke="#fff" stroke-width="0.3">ν</text>
<text x="401.11" y="43.20" font-size="13.25" class="i">τ</text>
<text x="407.88" y="39.00" font-size="19.10">;</text>
<text x="418.41" y="39.00" font-size="19.10" class="i">Y</text>
<text x="433.79" y="31.00" font-size="13.25" class="i">L</text>
<text x="441.11" y="31.00" font-size="13.25">,</text>
<text x="445.59" y="31.00" font-size="13.25" class="i">R</text>
<text x="437.99" y="42.50" font-size="13.60">ii</text>
<text x="461.43" y="39.00" font-size="19.10">from BP1</text>
<text x="326.89" y="76.10" font-size="18.67" class="i">c</text>
<text x="339.46" y="76.10" font-size="18.67" class="i">g</text>
<path d="M349.90 71.60H364.00M359.60 67.20L364.30 71.60L359.60 76.00" stroke="#000" stroke-width="1.5" fill="none" stroke-linejoin="miter"/>
<text transform="translate(371.37,76.10) scale(1.220,1)" font-size="18.67" class="i" stroke="#fff" stroke-width="0.3">ϕ</text>
<text x="387.89" y="76.10" font-size="18.67" class="i">μ</text>
<text x="397.78" y="76.10" font-size="19.10">;</text>
<text x="407.41" y="76.10" font-size="19.10" class="i">Y</text>
<text x="423.79" y="68.10" font-size="13.25" class="i">L</text>
<text x="431.11" y="68.10" font-size="13.25">,</text>
<text x="435.59" y="68.10" font-size="13.25" class="i">R</text>
<text x="427.99" y="79.60" font-size="13.60">ii</text>
<text x="451.23" y="76.10" font-size="19.10">from BP2</text>
<text x="326.87" y="114.20" font-size="18.67" class="i">q</text>
<text x="340.56" y="114.20" font-size="18.67" class="i">g</text>
<path d="M352.00 109.60H365.40M361.00 105.20L365.70 109.60L361.00 114.00" stroke="#000" stroke-width="1.5" fill="none" stroke-linejoin="miter"/>
<text transform="translate(372.37,114.20) scale(1.220,1)" font-size="18.67" class="i" stroke="#fff" stroke-width="0.3">ϕ</text>
<text x="390.41" y="116.80" font-size="20.30">+</text>
<text x="402.09" y="114.50" font-size="20.30" class="i">X</text>
<text x="417.42" y="115.50" font-size="20.30" class="i">;</text>
<text x="426.89" y="114.50" font-size="20.30" class="i">Y</text>
<text x="442.19" y="106.00" font-size="13.25" class="i">L</text>
<text x="444.89" y="117.60" font-size="13.60">ii</text>
<path d="M452.70 107.50H462.40M452.70 111.40H462.40" stroke="#000" stroke-width="1.5" fill="none"/>
<text x="462.19" y="114.50" font-size="20.30" class="i">Y</text>
<text x="478.59" y="106.00" font-size="13.25" class="i">R</text>
<text x="482.99" y="117.60" font-size="13.60">ii</text>
<path d="M490.80 107.50H500.30M490.80 111.40H500.30" stroke="#000" stroke-width="1.5" fill="none"/>
<text x="500.81" y="114.50" font-size="20.30">0.5</text>
</svg></body></html>
